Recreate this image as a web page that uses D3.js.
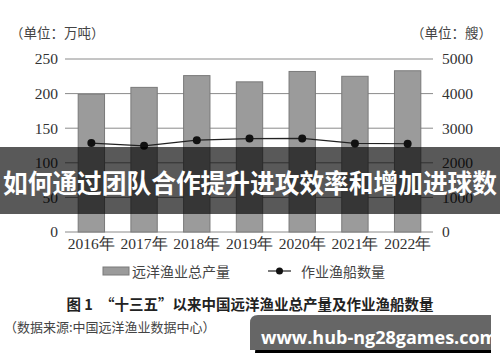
<!DOCTYPE html>
<html>
<head>
<meta charset="utf-8">
<script src="https://cdn.jsdelivr.net/npm/d3@7"></script>
<style>
  body { margin: 0; background: #fff; }
  svg { display: block; }
</style>
</head>
<body>
<div class="chart"></div>
<script>
// data
var years = ["2016年", "2017年", "2018年", "2019年", "2020年", "2021年", "2022年"];
var output = [199, 209, 226, 217, 232, 225, 233];       // 万吨
var vessels = [2571, 2491, 2654, 2701, 2705, 2559, 2551]; // 艘
var leftTicks = [0, 50, 100, 150, 200, 250];
var rightTicks = [0, 1000, 2000, 3000, 4000, 5000];

var bannerText = "如何通过团队合作提升进攻效率和增加进球数";
var siteText = "www.hub-ng28games.com";

var w = 500, h = 362;
var cjk = "'Noto Sans CJK SC', 'Noto Sans', sans-serif";
var serif = "'Liberation Serif', 'DejaVu Serif', serif";

var svg = d3.select(".chart").append("svg")
  .attr("width", w)
  .attr("height", h);

var x = d3.scaleBand().domain(years).range([65, 434])
  .paddingInner(0.5).paddingOuter(0.25);
var yL = d3.scaleLinear().domain([0, 250]).range([232, 59]);
var yR = d3.scaleLinear().domain([0, 5000]).range([232, 59]);

// grid lines
svg.append("g").selectAll("line")
  .data(leftTicks)
  .enter().append("line")
  .attr("x1", 65).attr("x2", 433)
  .attr("y1", function(d) { return yL(d); })
  .attr("y2", function(d) { return yL(d); })
  .attr("stroke", "#8a8a8a")
  .attr("stroke-width", 1);

// left axis labels
svg.append("g").selectAll("text")
  .data(leftTicks)
  .enter().append("text")
  .attr("x", 58)
  .attr("y", function(d) { return yL(d); })
  .attr("dy", "0.35em")
  .attr("text-anchor", "end")
  .attr("font-family", serif)
  .attr("font-size", 15.5)
  .attr("fill", "#333")
  .text(function(d) { return d; });

// right axis labels
svg.append("g").selectAll("text")
  .data(rightTicks)
  .enter().append("text")
  .attr("x", 442)
  .attr("y", function(d) { return yR(d); })
  .attr("dy", "0.35em")
  .attr("font-family", serif)
  .attr("font-size", 15.5)
  .attr("fill", "#333")
  .text(function(d) { return d; });

// units
svg.append("text")
  .attr("x", 10).attr("y", 38)
  .attr("font-family", cjk).attr("font-size", 13.5).attr("fill", "#444")
  .text("（单位：万吨）");
svg.append("text")
  .attr("x", 492).attr("y", 38)
  .attr("text-anchor", "end")
  .attr("font-family", cjk).attr("font-size", 13.5).attr("fill", "#444")
  .text("（单位：艘）");

// bars
svg.append("g").selectAll("rect")
  .data(output)
  .enter().append("rect")
  .attr("x", function(d, i) { return x(years[i]); })
  .attr("y", function(d) { return yL(d); })
  .attr("width", x.bandwidth())
  .attr("height", function(d) { return yL(0) - yL(d); })
  .attr("fill", "#9b9b9b")
  .attr("stroke", "#7a7a7a")
  .attr("stroke-width", 1);

// year labels
svg.append("g").selectAll("text")
  .data(years)
  .enter().append("text")
  .attr("x", function(d) { return x(d) + x.bandwidth() / 2; })
  .attr("y", 249)
  .attr("text-anchor", "middle")
  .attr("font-family", serif)
  .attr("font-size", 15.5)
  .attr("fill", "#333")
  .text(function(d) { return d; });

// vessel line
var line = d3.line()
  .x(function(d, i) { return x(years[i]) + x.bandwidth() / 2; })
  .y(function(d) { return yR(d); });

svg.append("path")
  .attr("d", line(vessels))
  .attr("fill", "none")
  .attr("stroke", "#222")
  .attr("stroke-width", 1.2);

svg.append("g").selectAll("circle")
  .data(vessels)
  .enter().append("circle")
  .attr("cx", function(d, i) { return x(years[i]) + x.bandwidth() / 2; })
  .attr("cy", function(d) { return yR(d); })
  .attr("r", 4)
  .attr("fill", "#111");

// legend
var lg = svg.append("g");
lg.append("rect")
  .attr("x", 103).attr("y", 267).attr("width", 26).attr("height", 8)
  .attr("fill", "#9b9b9b").attr("stroke", "#7a7a7a");
lg.append("text")
  .attr("x", 132).attr("y", 277)
  .attr("font-family", cjk).attr("font-size", 14).attr("fill", "#444")
  .text("远洋渔业总产量");
lg.append("line")
  .attr("x1", 268).attr("x2", 291).attr("y1", 271).attr("y2", 271)
  .attr("stroke", "#222").attr("stroke-width", 1.2);
lg.append("circle")
  .attr("cx", 279.5).attr("cy", 271).attr("r", 3.5).attr("fill", "#111");
lg.append("text")
  .attr("x", 301).attr("y", 277)
  .attr("font-family", cjk).attr("font-size", 14).attr("fill", "#444")
  .text("作业渔船数量");

// caption
svg.append("text")
  .attr("x", 250).attr("y", 310)
  .attr("text-anchor", "middle")
  .attr("font-family", cjk).attr("font-size", 14.5).attr("font-weight", "bold")
  .attr("fill", "#222")
  .text("图 1　“十三五”以来中国远洋渔业总产量及作业渔船数量");
svg.append("text")
  .attr("x", 4).attr("y", 332)
  .attr("font-family", cjk).attr("font-size", 13).attr("fill", "#444")
  .text("（数据来源:中国远洋渔业数据中心）");

// overlay banner
svg.append("rect")
  .attr("x", 0).attr("y", 147).attr("width", w).attr("height", 67)
  .attr("fill", "#000").attr("fill-opacity", 0.65);
svg.append("text")
  .attr("x", 3).attr("y", 184)
  .attr("dy", "0.35em")
  .attr("textLength", 494)
  .attr("lengthAdjust", "spacingAndGlyphs")
  .attr("font-family", cjk).attr("font-size", 26).attr("font-weight", "bold")
  .attr("fill", "#fff")
  .text(bannerText);

// site label
svg.append("path")
  .attr("d", "M258,318 H491 V353 H255 Z")
  .attr("fill", "#000");
svg.append("path")
  .attr("d", "M258,315 H491 V350 H250 V323 Q250,315 258,315 Z")
  .attr("fill", "#666");
svg.append("text")
  .attr("x", 261).attr("y", 338)
  .attr("dy", "0.35em")
  .attr("font-family", "'Open Sans', 'Noto Sans', sans-serif")
  .attr("font-size", 18).attr("font-weight", "bold")
  .attr("fill", "#fff")
  .text(siteText);
</script>
</body>
</html>
